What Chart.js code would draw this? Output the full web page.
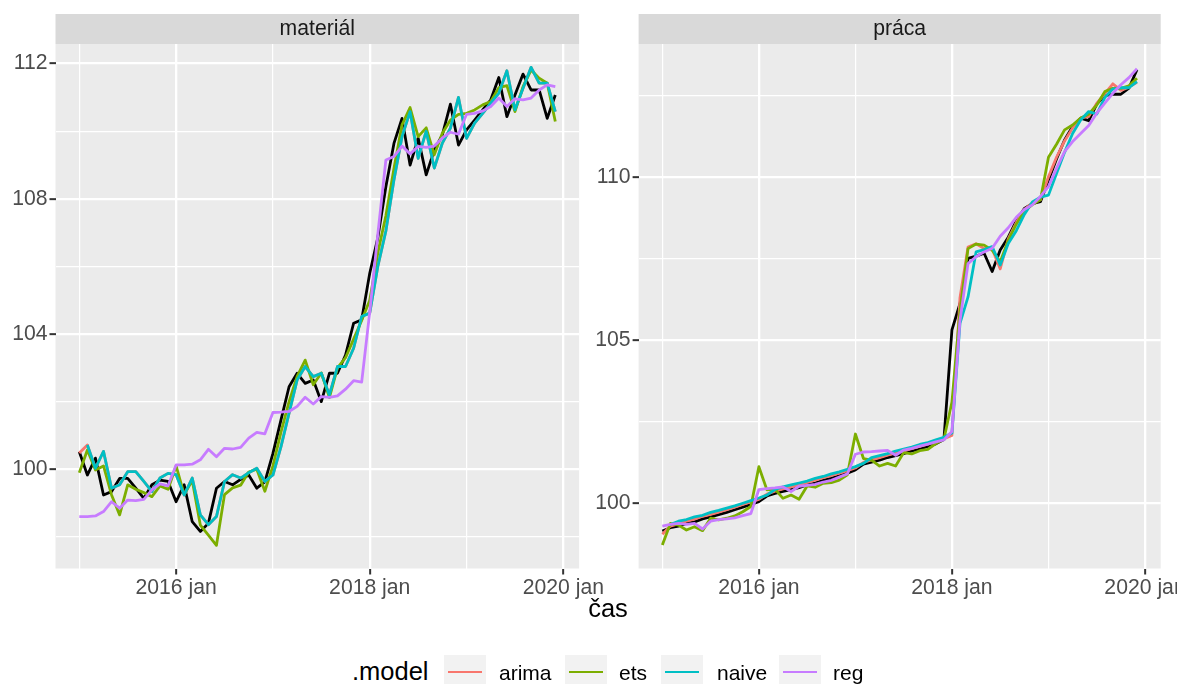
<!DOCTYPE html>
<html lang="sk">
<head>
<meta charset="utf-8">
<title>materiál a práca – modely</title>
<script src="https://cdn.jsdelivr.net/npm/chart.js@4.4.1/dist/chart.umd.min.js"></script>
<style>
  html, body { margin: 0; padding: 0; width: 1177px; height: 684px; overflow: hidden; background: #ffffff;
               font-family: "Liberation Sans", Arial, Helvetica, sans-serif; }
  canvas { position: absolute; top: 0; }
  #panelMaterial { left: 0; }
  #panelPraca { left: 590px; }
  .axis-title { position: absolute; left: 608px; top: 609px; transform: translate(-50%, -50%);
                font-size: 25.5px; line-height: 1; color: #000; white-space: nowrap; }
  .legend-title { position: absolute; left: 352px; top: 672px; transform: translateY(-50%);
                  font-size: 25.5px; line-height: 1; color: #000; white-space: nowrap; }
  .key { position: absolute; top: 655px; width: 42px; height: 34px; background: #F2F2F2; }
  .key span { position: absolute; left: 4px; right: 4px; top: 15.6px; height: 2.8px; }
  .key-label { position: absolute; top: 672px; transform: translateY(-50%); font-size: 21px;
               line-height: 1; color: #000; white-space: nowrap; }
</style>
</head>
<body>
<canvas id="panelMaterial" width="620" height="604" style="width:620px;height:604px"></canvas>
<canvas id="panelPraca" width="610" height="604" style="width:610px;height:604px"></canvas>
<div class="axis-title">čas</div>
<div id="legend"></div>
<script>
// ---- months of the sample (2015 jan – 2019 dec) ----
const monthNames = ['jan', 'feb', 'mar', 'apr', 'máj', 'jún', 'júl', 'aug', 'sep', 'okt', 'nov', 'dec'];
const years = [2015, 2016, 2017, 2018, 2019];
const months = years.flatMap(y => monthNames.map(m => y + ' ' + m));

// ---- x axis: yearly gridlines, every second year labelled ----
const xGridLabels = ['2015 jan', '2016 jan', '2017 jan', '2018 jan', '2019 jan', '2020 jan'];
const xTickLabels = ['2016 jan', '2018 jan', '2020 jan'];

// ---- y axes ----
const yGridMaterial = [98, 100, 102, 104, 106, 108, 110, 112];
const yTickLabelsMaterial = [100, 104, 108, 112];
const yGridPraca = [100, 102.5, 105, 107.5, 110, 112.5];
const yTickLabelsPraca = [100, 105, 110];

// ---- legend ----
const modelNames = ['arima', 'ets', 'naive', 'reg'];
const modelColors = ['#F8766D', '#7CAE00', '#00BFC4', '#C77CFF'];

// ---- materiál: observed index and fitted values ----
const actualMaterial = [
  100.52, 99.83, 100.33, 99.24, 99.34, 99.73, 99.73, 99.44, 99.14, 99.54, 99.68, 99.64,
  99.04, 99.54, 98.45, 98.16, 98.40, 99.44, 99.64, 99.54, 99.70, 99.83, 99.44, 99.63,
  100.47, 101.46, 102.44, 102.84, 102.54, 102.64, 102.00, 102.84, 102.84, 103.38, 104.32, 104.42,
  105.80, 106.85, 108.36, 109.64, 110.38, 109.00, 109.80, 108.71, 109.45, 109.89, 110.80, 109.59,
  110.04, 110.33, 110.63, 110.93, 111.59, 110.43, 111.07, 111.69, 111.22, 111.22, 110.38, 111.07
];
const arimaMaterial = [
  100.48, 100.72, 100.03, 100.53, 99.44, 99.54, 99.93, 99.93, 99.64, 99.34, 99.74, 99.88,
  99.84, 99.24, 99.74, 98.65, 98.36, 98.60, 99.64, 99.84, 99.74, 99.90, 100.03, 99.64,
  99.83, 100.67, 101.66, 102.64, 103.04, 102.74, 102.84, 102.20, 103.04, 103.04, 103.58, 104.52,
  104.62, 106.00, 107.05, 108.56, 109.84, 110.58, 109.20, 110.00, 108.91, 109.65, 110.09, 111.00,
  109.79, 110.24, 110.53, 110.83, 111.13, 111.79, 110.63, 111.27, 111.89, 111.42, 111.42, 110.58
];
const etsMaterial = [
  99.90, 100.57, 99.98, 100.10, 99.24, 98.65, 99.54, 99.41, 99.31, 99.19, 99.51, 99.41,
  100.10, 99.25, 99.67, 98.35, 98.05, 97.75, 99.25, 99.45, 99.53, 99.92, 100.00, 99.35,
  100.10, 101.10, 102.00, 102.75, 103.23, 102.50, 102.85, 102.12, 103.00, 103.30, 103.85, 104.40,
  105.00, 106.40, 107.50, 108.90, 110.19, 110.70, 109.84, 110.10, 109.30, 109.94, 110.33, 110.50,
  110.53, 110.63, 110.78, 110.88, 111.29, 111.35, 110.58, 111.32, 111.81, 111.57, 111.42, 110.29
];
const naiveMaterial = [
  null, 100.72, 100.03, 100.53, 99.44, 99.54, 99.93, 99.93, 99.64, 99.34, 99.74, 99.88,
  99.84, 99.24, 99.74, 98.65, 98.36, 98.60, 99.64, 99.84, 99.74, 99.90, 100.03, 99.64,
  99.83, 100.67, 101.66, 102.64, 103.04, 102.74, 102.84, 102.20, 103.04, 103.04, 103.58, 104.52,
  104.62, 106.00, 107.05, 108.56, 109.84, 110.58, 109.20, 110.00, 108.91, 109.65, 110.09, 111.00,
  109.79, 110.24, 110.53, 110.83, 111.13, 111.79, 110.63, 111.27, 111.89, 111.42, 111.42, 110.58
];
const regMaterial = [
  98.60, 98.60, 98.62, 98.75, 99.04, 98.85, 99.09, 99.07, 99.11, 99.39, 99.57, 99.51,
  100.13, 100.13, 100.15, 100.28, 100.59, 100.37, 100.62, 100.60, 100.65, 100.92, 101.09, 101.05,
  101.68, 101.69, 101.71, 101.86, 102.13, 101.93, 102.15, 102.13, 102.17, 102.37, 102.62, 102.58,
  104.65, 106.95, 109.15, 109.25, 109.56, 109.33, 109.55, 109.52, 109.56, 109.80, 109.97, 109.91,
  110.50, 110.53, 110.60, 110.73, 110.98, 110.73, 110.96, 110.93, 110.98, 111.22, 111.37, 111.32
];

// ---- práca: observed index and fitted values ----
const actualPraca = [
  99.15, 99.25, 99.30, 99.38, 99.43, 99.52, 99.58, 99.65, 99.72, 99.80, 99.88, 99.96,
  100.05, 100.22, 100.30, 100.36, 100.42, 100.48, 100.56, 100.62, 100.70, 100.76, 100.84, 100.92,
  101.02, 101.20, 101.26, 101.32, 101.40, 101.46, 101.52, 101.60, 101.66, 101.74, 101.82, 101.95,
  105.31, 106.12, 107.50, 107.57, 107.66, 107.10, 107.76, 108.15, 108.65, 109.03, 109.18, 109.24,
  109.90, 110.55, 111.13, 111.54, 111.80, 111.72, 112.23, 112.49, 112.53, 112.53, 112.72, 113.28
];
const arimaPraca = [
  99.05, 99.30, 99.37, 99.45, 99.51, 99.60, 99.66, 99.73, 99.80, 99.88, 99.96, 100.04,
  100.12, 100.28, 100.37, 100.44, 100.50, 100.57, 100.64, 100.71, 100.78, 100.85, 100.92, 101.00,
  101.08, 101.25, 101.33, 101.40, 101.47, 101.54, 101.60, 101.67, 101.74, 101.81, 101.89, 101.98,
  102.08, 106.30, 107.85, 107.95, 107.80, 107.80, 107.18, 108.10, 108.60, 109.00, 109.20, 109.30,
  110.00, 110.60, 111.10, 111.50, 111.80, 111.85, 112.25, 112.55, 112.85, 112.65, 112.75, 112.90
];
const etsPraca = [
  98.72, 99.38, 99.33, 99.18, 99.28, 99.16, 99.54, 99.49, 99.54, 99.61, 99.74, 99.90,
  101.12, 100.41, 100.43, 100.15, 100.25, 100.12, 100.53, 100.49, 100.61, 100.63, 100.71, 100.87,
  102.12, 101.37, 101.32, 101.14, 101.22, 101.14, 101.55, 101.51, 101.61, 101.65, 101.83, 101.96,
  103.10, 105.90, 107.80, 107.94, 107.91, 107.75, 107.40, 108.05, 108.55, 108.95, 109.15, 109.30,
  110.60, 111.00, 111.44, 111.59, 111.80, 111.92, 112.20, 112.61, 112.71, 112.71, 112.79, 113.02
];
const naivePraca = [
  null, 99.35, 99.45, 99.50, 99.58, 99.63, 99.72, 99.78, 99.85, 99.92, 100.00, 100.08,
  100.16, 100.25, 100.42, 100.50, 100.56, 100.62, 100.68, 100.76, 100.82, 100.90, 100.96, 101.04,
  101.12, 101.22, 101.40, 101.46, 101.52, 101.60, 101.66, 101.72, 101.80, 101.86, 101.94, 102.02,
  102.15, 105.51, 106.32, 107.70, 107.77, 107.86, 107.30, 107.96, 108.35, 108.85, 109.23, 109.38,
  109.44, 110.10, 110.75, 111.33, 111.74, 112.00, 111.92, 112.43, 112.69, 112.73, 112.73, 112.92
];
const regPraca = [
  99.30, 99.35, 99.38, 99.35, 99.38, 99.21, 99.45, 99.50, 99.52, 99.55, 99.62, 99.68,
  100.42, 100.45, 100.47, 100.50, 100.36, 100.52, 100.55, 100.58, 100.65, 100.70, 100.80, 100.90,
  101.50, 101.57, 101.58, 101.60, 101.62, 101.47, 101.63, 101.68, 101.75, 101.81, 101.88, 101.94,
  102.20, 105.60, 107.34, 107.55, 107.70, 107.81, 108.18, 108.44, 108.76, 109.00, 109.14, 109.40,
  109.70, 110.26, 110.77, 111.08, 111.33, 111.57, 111.95, 112.26, 112.56, 112.82, 113.04, 113.31
];

// ---- shared styling ----
const FONT = '"Liberation Sans", Arial, Helvetica, sans-serif';
const TICK_TEXT = '#4D4D4D';
const TICK_MARK = '#333333';
const TEXT_SIZE = 21.2;

// position of a "YYYY jan" label on the month axis (0 = first month of the sample)
const monthPos = label => (parseInt(label, 10) - years[0]) * 12;
const xLabelAt = {};
xTickLabels.forEach(l => { xLabelAt[monthPos(l)] = l; });

// grey panel background and the facet strip above it
const panelDecor = {
  id: 'panelDecor',
  beforeDraw(chart, args, opts) {
    const { ctx, chartArea: a } = chart;
    ctx.save();
    ctx.fillStyle = '#EBEBEB';
    ctx.fillRect(a.left, a.top, a.right - a.left, a.bottom - a.top);
    ctx.fillStyle = '#D9D9D9';
    ctx.fillRect(a.left, 14, a.right - a.left, 30);
    ctx.fillStyle = '#1A1A1A';
    ctx.font = TEXT_SIZE + 'px ' + FONT;
    ctx.textAlign = 'center';
    ctx.textBaseline = 'middle';
    ctx.fillText(opts.title, (a.left + a.right) / 2, 29.5);
    ctx.restore();
  }
};

function seriesPoints(values) {
  return values.map((v, i) => ({ x: i, y: v }));
}

function makePanel(id, title, actual, fits, yGrid, yLabels, yMin, yMax, axisWidth, padRight) {
  const datasets = [{
    label: 'skutočnosť',
    data: seriesPoints(actual),
    borderColor: '#000000',
    order: 5
  }];
  fits.forEach((vals, k) => {
    datasets.push({
      label: modelNames[k],
      data: seriesPoints(vals),
      borderColor: modelColors[k],
      order: 4 - k
    });
  });
  const xMajor = v => xLabelAt[v] !== undefined;
  const yMajor = v => yLabels.includes(v);
  return new Chart(document.getElementById(id), {
    type: 'line',
    data: { datasets },
    plugins: [panelDecor],
    options: {
      responsive: false,
      animation: false,
      devicePixelRatio: 1,
      layout: { padding: { top: 44, left: 0, right: padRight, bottom: 0 } },
      plugins: {
        legend: { display: false },
        tooltip: { enabled: false },
        panelDecor: { title }
      },
      elements: {
        point: { radius: 0, hoverRadius: 0 },
        line: { tension: 0, borderWidth: 2.8, borderJoinStyle: 'round', borderCapStyle: 'butt', fill: false }
      },
      scales: {
        x: {
          type: 'linear',
          min: -2.95,
          max: 61.95,
          afterBuildTicks: s => { s.ticks = xGridLabels.map(l => ({ value: monthPos(l) })); },
          afterFit: s => { s.height = 35.5; },
          border: { display: false },
          grid: {
            color: '#FFFFFF',
            lineWidth: c => (c.tick && xMajor(c.tick.value)) ? 2.3 : 1.2,
            drawTicks: true,
            tickLength: 6,
            tickWidth: 2,
            tickColor: c => (c.tick && xMajor(c.tick.value)) ? TICK_MARK : 'rgba(0,0,0,0)'
          },
          ticks: {
            autoSkip: false,
            maxRotation: 0,
            minRotation: 0,
            padding: 1,
            color: TICK_TEXT,
            font: { family: FONT, size: TEXT_SIZE },
            callback: v => xLabelAt[v] !== undefined ? xLabelAt[v] : ''
          }
        },
        y: {
          type: 'linear',
          min: yMin,
          max: yMax,
          afterBuildTicks: s => { s.ticks = yGrid.map(v => ({ value: v })); },
          afterFit: s => { s.width = axisWidth; },
          border: { display: false },
          grid: {
            color: '#FFFFFF',
            lineWidth: c => (c.tick && yMajor(c.tick.value)) ? 2.3 : 1.2,
            drawTicks: true,
            tickLength: 6,
            tickWidth: 2,
            tickColor: c => (c.tick && yMajor(c.tick.value)) ? TICK_MARK : 'rgba(0,0,0,0)'
          },
          ticks: {
            autoSkip: false,
            padding: 2,
            color: TICK_TEXT,
            font: { family: FONT, size: TEXT_SIZE },
            callback: v => yMajor(v) ? String(v) : ''
          }
        }
      }
    }
  });
}

makePanel('panelMaterial', 'materiál', actualMaterial,
  [arimaMaterial, etsMaterial, naiveMaterial, regMaterial],
  yGridMaterial, yTickLabelsMaterial, 97.065, 112.58, 55.5, 40.9);

makePanel('panelPraca', 'práca', actualPraca,
  [arimaPraca, etsPraca, naivePraca, regPraca],
  yGridPraca, yTickLabelsPraca, 98.0, 114.07, 48.6, 39.3);

// ---- legend (.model) ----
const legend = document.getElementById('legend');
const legendTitle = document.createElement('div');
legendTitle.className = 'legend-title';
legendTitle.textContent = '.model';
legend.appendChild(legendTitle);
const keyLeft = [444, 565, 661, 779];
const labelLeft = [499, 619, 717, 833];
modelNames.forEach((name, k) => {
  const key = document.createElement('div');
  key.className = 'key';
  key.style.left = keyLeft[k] + 'px';
  const line = document.createElement('span');
  line.style.background = modelColors[k];
  key.appendChild(line);
  legend.appendChild(key);
  const lab = document.createElement('div');
  lab.className = 'key-label';
  lab.style.left = labelLeft[k] + 'px';
  lab.textContent = name;
  legend.appendChild(lab);
});
</script>
</body>
</html>
